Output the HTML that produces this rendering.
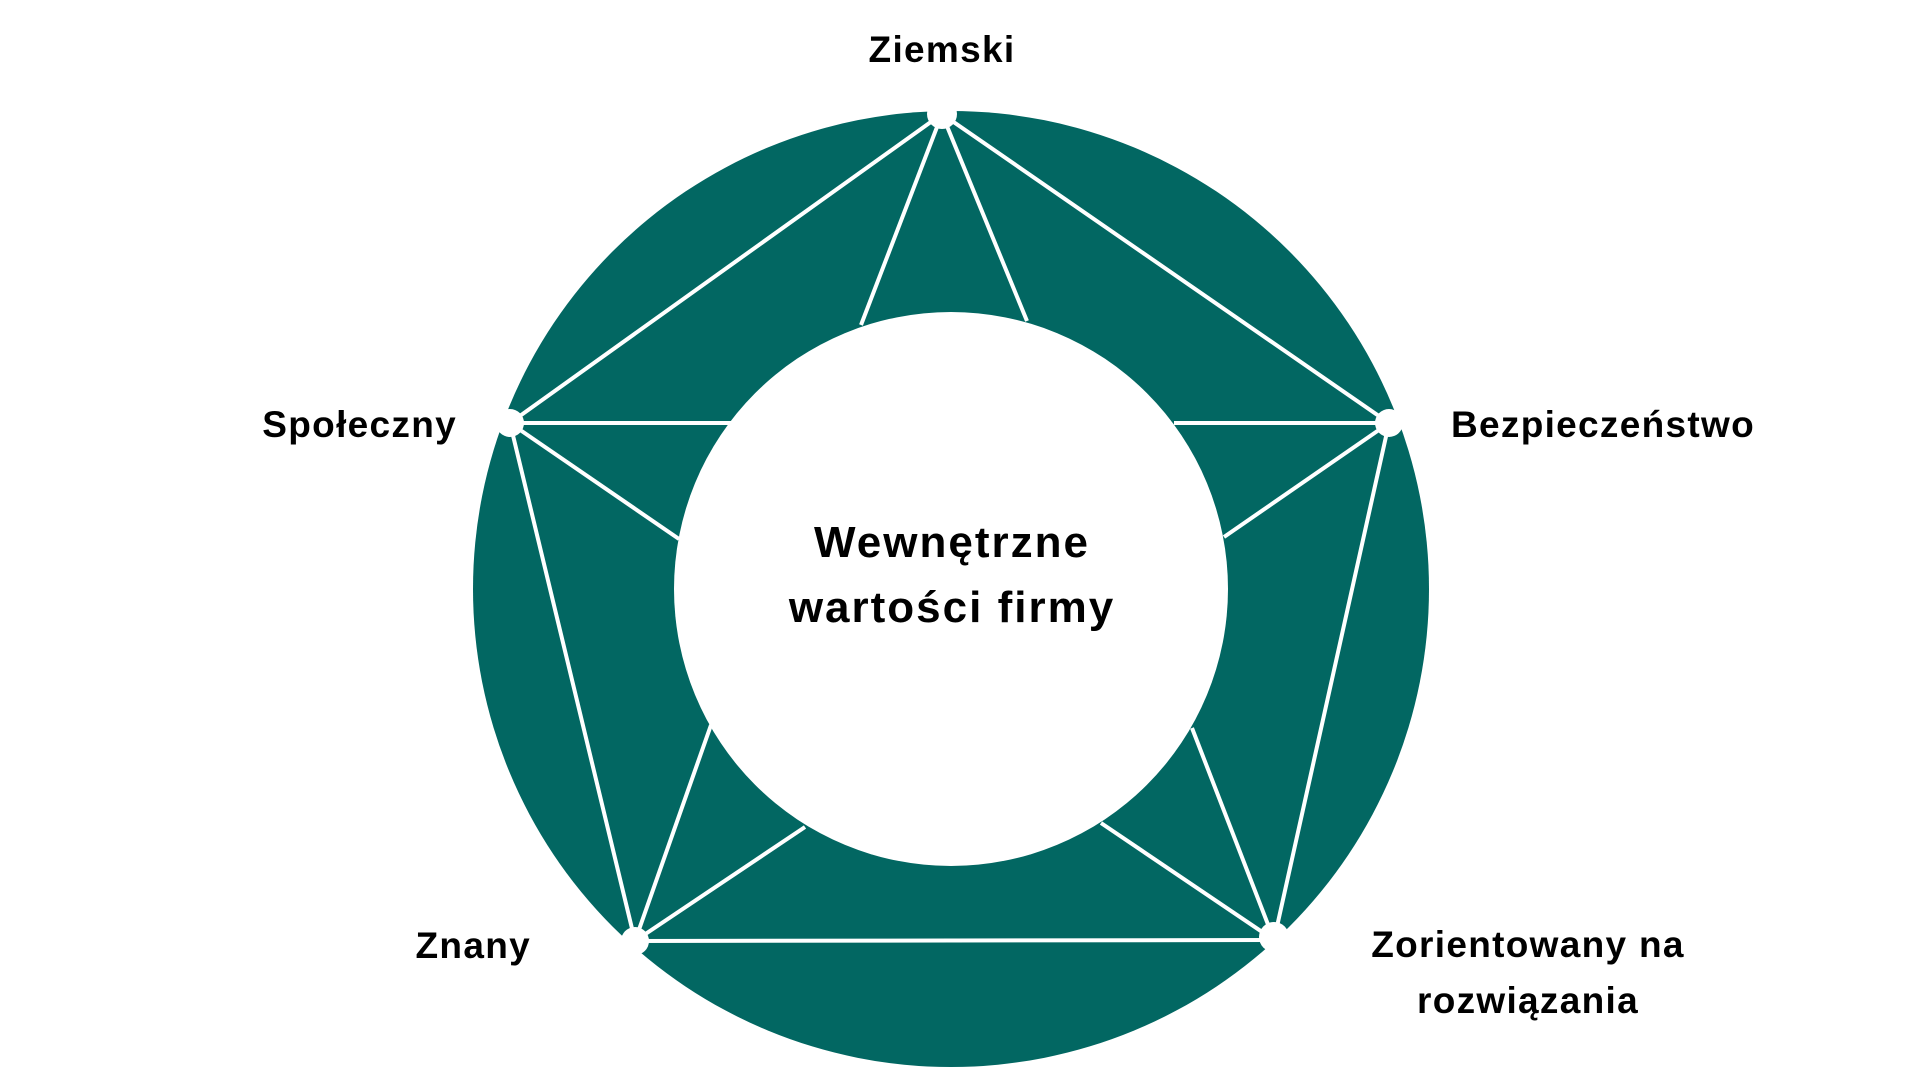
<!DOCTYPE html>
<html><head><meta charset="utf-8"><style>
html,body{margin:0;padding:0;background:#fff;width:1920px;height:1080px;overflow:hidden}
svg text{font-family:"Liberation Sans",sans-serif;font-weight:bold;fill:#000;letter-spacing:1.3px}
svg text.c{letter-spacing:2px}
</style></head><body>
<svg width="1920" height="1080" viewBox="0 0 1920 1080" xmlns="http://www.w3.org/2000/svg">
<circle cx="951" cy="589" r="478" fill="#026762"/>
<g stroke="#fff" stroke-width="4" fill="none">
<polygon points="942,114 1389,423 1274,940 635,941 510,423"/>
<line x1="942" y1="114" x2="861" y2="325"/>
<line x1="942" y1="114" x2="1027" y2="321"/>
<line x1="1389" y1="423" x2="1174" y2="423"/>
<line x1="1389" y1="423" x2="1224" y2="537"/>
<line x1="510" y1="423" x2="731" y2="423"/>
<line x1="510" y1="423" x2="679" y2="539"/>
<line x1="635" y1="941" x2="711" y2="725"/>
<line x1="635" y1="941" x2="805" y2="827"/>
<line x1="1274" y1="940" x2="1192" y2="728"/>
<line x1="1274" y1="940" x2="1101" y2="823"/>
</g>
<circle cx="951" cy="589" r="277" fill="#fff"/>
<g fill="#fff">
<circle cx="942" cy="114" r="15"/>
<circle cx="1389" cy="423" r="14"/>
<circle cx="510" cy="423" r="14"/>
<circle cx="635" cy="941" r="14"/>
<circle cx="1274" cy="937" r="15"/>
</g>
<text x="942" y="62" font-size="37" text-anchor="middle">Ziemski</text>
<text x="457" y="437" font-size="37" text-anchor="end">Społeczny</text>
<text x="1451" y="437" font-size="37">Bezpieczeństwo</text>
<text x="531" y="958" font-size="37" text-anchor="end">Znany</text>
<text x="1528" y="957" font-size="37" text-anchor="middle">Zorientowany na</text>
<text x="1528" y="1013" font-size="37" text-anchor="middle">rozwiązania</text>
<text class="c" x="952" y="557" font-size="44" text-anchor="middle">Wewnętrzne</text>
<text class="c" x="952" y="622" font-size="44" text-anchor="middle">wartości firmy</text>
</svg>
</body></html>
